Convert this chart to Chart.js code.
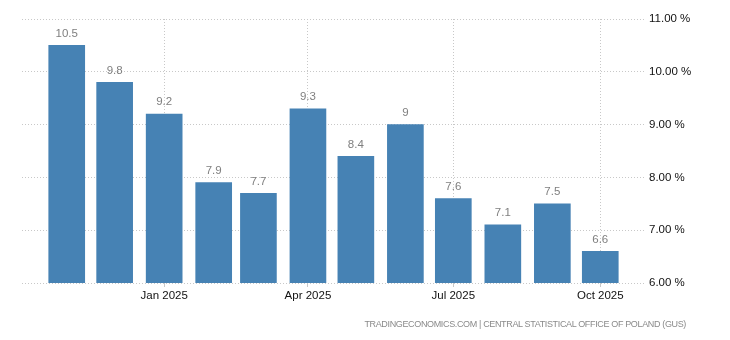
<!DOCTYPE html>
<html>
<head>
<meta charset="utf-8">
<script src="https://cdn.jsdelivr.net/npm/chart.js@4.4.1/dist/chart.umd.min.js"></script>
<style>
  body { margin: 0; background: #fff; }
  #wrap { position: relative; width: 730px; height: 340px; }
  #source {
    position: absolute; right: 44px; top: 319px;
    font: 9px "Liberation Sans", Arial, sans-serif; color: #8a8a8a;
    white-space: nowrap; letter-spacing: -0.35px;
  }
</style>
</head>
<body>
<div id="wrap">
  <canvas id="chart" width="730" height="340"></canvas>
  <div id="source">TRADINGECONOMICS.COM | CENTRAL STATISTICAL OFFICE OF POLAND (GUS)</div>
</div>
<script>
const months = ["2024-11", "2024-12", "2025-01", "2025-02", "2025-03", "2025-04",
                "2025-05", "2025-06", "2025-07", "2025-08", "2025-09", "2025-10"];
const values = [10.5, 9.8, 9.2, 7.9, 7.7, 9.3, 8.4, 9, 7.6, 7.1, 7.5, 6.6];
const tickMonths = ["2025-01", "2025-04", "2025-07", "2025-10"];
const tickLabels = ["Jan 2025", "Apr 2025", "Jul 2025", "Oct 2025"];
const yTicks = [6, 7, 8, 9, 10, 11];

// days since first month, so bars sit on the real calendar spacing
function dayOf(m) {
  const [y, mo] = m.split("-").map(Number);
  const [y0, mo0] = months[0].split("-").map(Number);
  return (Date.UTC(y, mo - 1, 1) - Date.UTC(y0, mo0 - 1, 1)) / 86400000;
}

const points = months.map((m, i) => ({ x: dayOf(m), y: values[i] }));
const tickDays = tickMonths.map(dayOf);

const valueLabels = {
  id: "valueLabels",
  afterDatasetsDraw(chart) {
    const ctx = chart.ctx;
    const meta = chart.getDatasetMeta(0);
    ctx.save();
    ctx.font = '11.5px "Liberation Sans", Arial, sans-serif';
    ctx.fillStyle = "#7f7f7f";
    ctx.textAlign = "center";
    ctx.textBaseline = "bottom";
    meta.data.forEach((bar, i) => {
      ctx.fillText(String(values[i]), bar.x, bar.y - 6);
    });
    ctx.restore();
  }
};

Chart.defaults.font.family = '"Liberation Sans", Arial, sans-serif';

new Chart(document.getElementById("chart"), {
  type: "bar",
  data: {
    datasets: [{
      data: points,
      backgroundColor: "#4682b4",
      barThickness: 36
    }]
  },
  options: {
    responsive: false,
    animation: false,
    layout: { padding: { left: 22, top: 19, right: 0, bottom: 0 } },
    plugins: { legend: { display: false }, tooltip: { enabled: false } },
    scales: {
      x: {
        type: "linear",
        offset: false,
        min: -28,
        max: 362,
        afterBuildTicks: axis => { axis.ticks = tickDays.map(v => ({ value: v })); },
        afterFit: axis => { axis.height = 57; },
        ticks: {
          autoSkip: false,
          maxRotation: 0,
          color: "#111",
          font: { size: 11.5 },
          padding: 2,
          callback: v => tickLabels[tickDays.indexOf(v)]
        },
        grid: {
          offset: false,
          color: "#c8c8c8",
          tickLength: 4,
          tickColor: "#c8c8c8"
        },
        border: { display: false, dash: [1, 2] }
      },
      y: {
        position: "right",
        min: 6,
        max: 11,
        afterBuildTicks: axis => { axis.ticks = yTicks.map(v => ({ value: v })); },
        afterFit: axis => { axis.width = 85; },
        ticks: {
          color: "#111",
          font: { size: 11.5 },
          padding: 4,
          callback: v => v.toFixed(2) + " %"
        },
        grid: {
          color: "#c8c8c8",
          drawTicks: false
        },
        border: { display: false, dash: [1, 2] }
      }
    }
  },
  plugins: [valueLabels]
});
</script>
</body>
</html>
